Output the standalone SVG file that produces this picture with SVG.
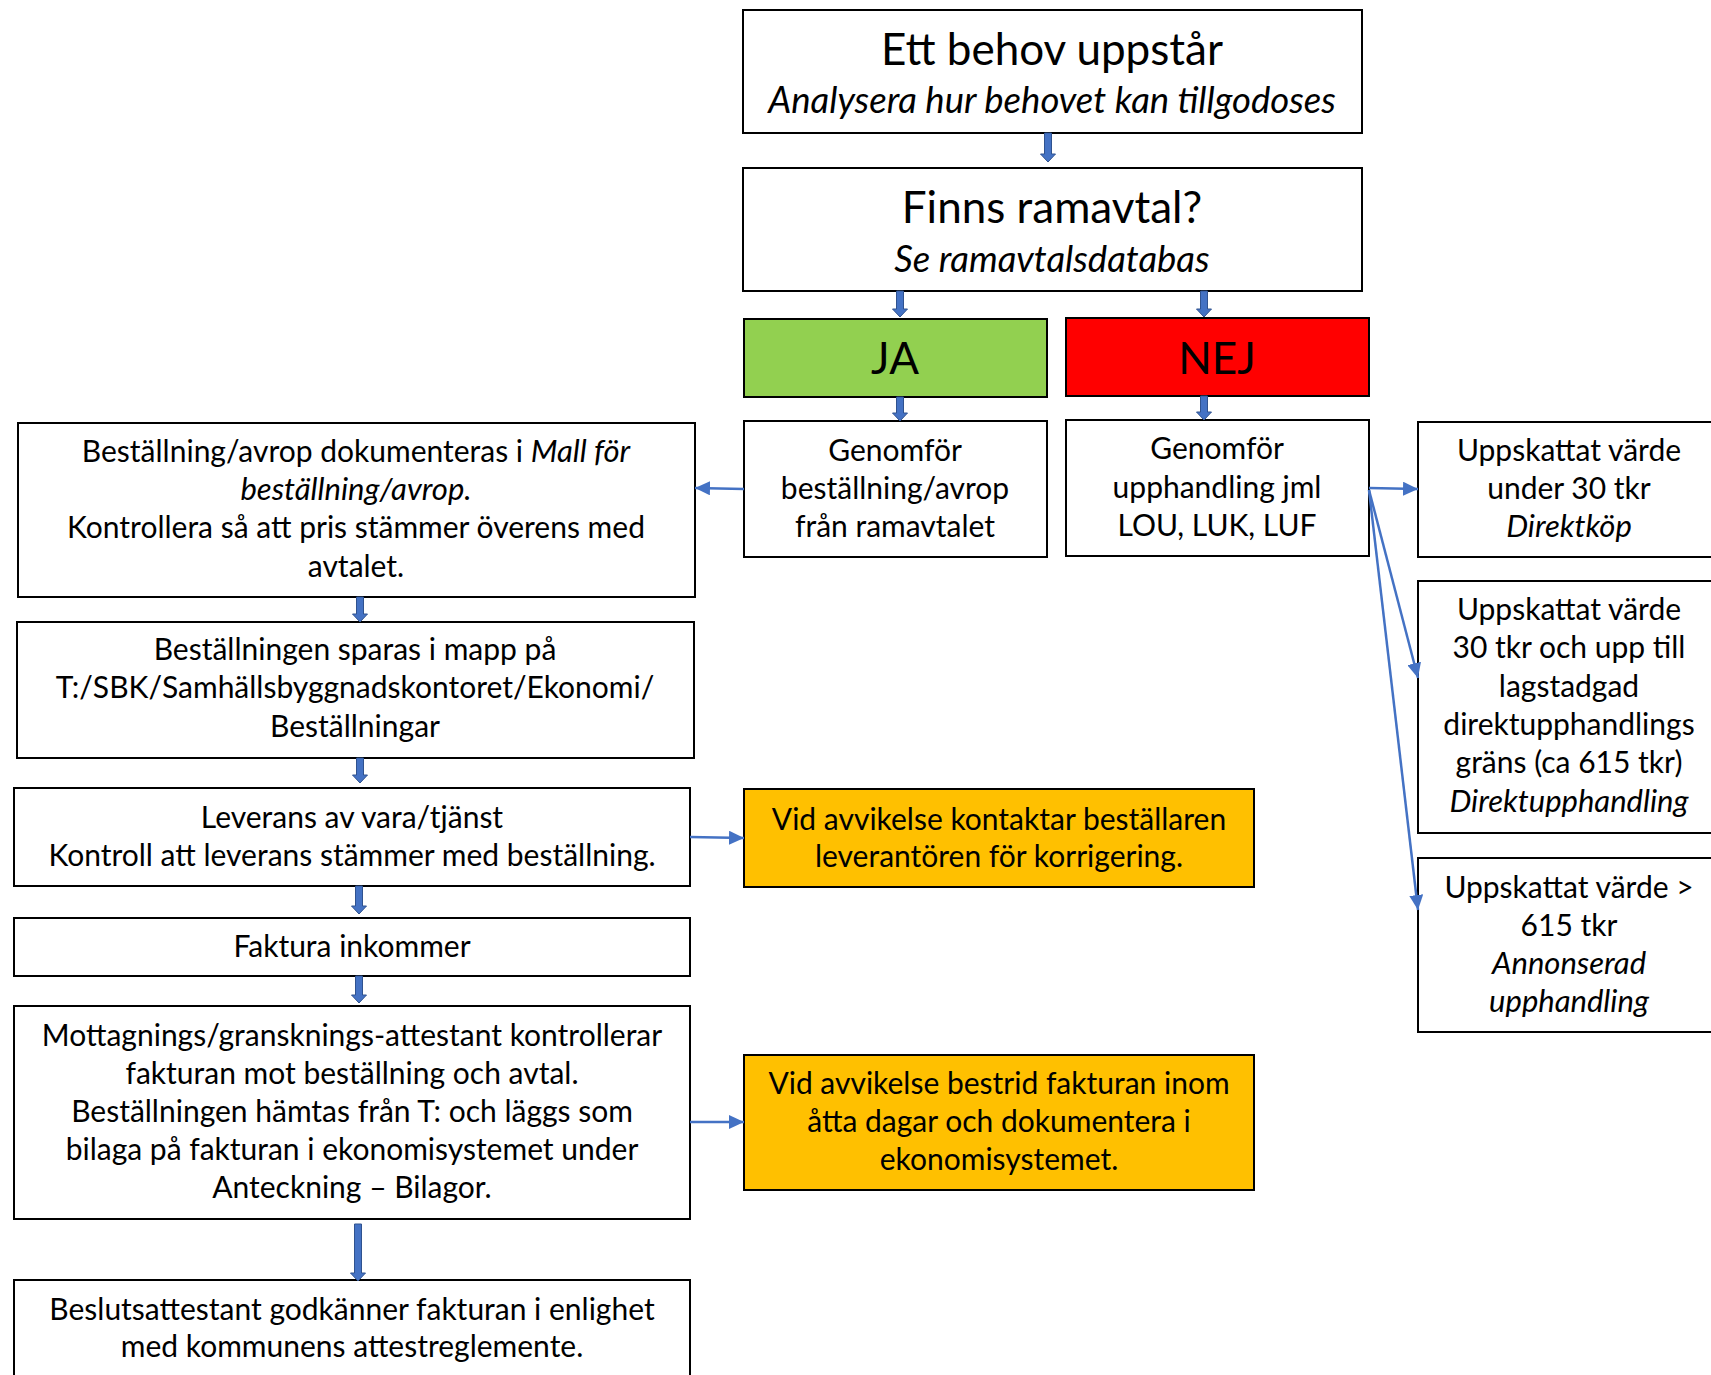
<svg xmlns="http://www.w3.org/2000/svg" width="1711" height="1375" viewBox="0 0 1711 1375">
<style>
  .box { fill: #ffffff; stroke: #000000; stroke-width: 2; }
  .ja { fill: #92D050; stroke: #000000; stroke-width: 2; }
  .nej { fill: #FF0000; stroke: #000000; stroke-width: 2; }
  .warn { fill: #FFC000; stroke: #000000; stroke-width: 2; }
  text { font-family: Lato, "Liberation Sans", sans-serif; fill: #000000; text-anchor: middle; }
  .t { font-size: 44px; }
  .b { font-size: 30px; }
  .i { font-style: italic; font-size: 31px; }
  .s { font-style: italic; font-size: 36.5px; }
  .blk { fill: #4472C4; stroke: #2F528F; stroke-width: 1; }
  .thin { stroke: #4472C4; stroke-width: 2.5; fill: none; marker-end: url(#ah); }
</style>
<defs>
  <marker id="ah" viewBox="0 0 15 14" refX="15" refY="7" markerWidth="15" markerHeight="14" markerUnits="userSpaceOnUse" orient="auto">
    <path d="M0,0 L15,7 L0,14 Z" fill="#4472C4"/>
  </marker>
</defs>
<rect width="1711" height="1375" fill="#ffffff"/>

<g id="n-behov">
  <rect class="box" x="743" y="10" width="619" height="123"/>
  <text class="t" x="1052" y="65">Ett behov uppstår</text>
  <text class="s" x="1052" y="113">Analysera hur behovet kan tillgodoses</text>
</g>
<g id="n-finns">
  <rect class="box" x="743" y="168" width="619" height="123"/>
  <text class="t" x="1052" y="223">Finns ramavtal?</text>
  <text class="s" x="1052" y="272">Se ramavtalsdatabas</text>
</g>
<g id="n-ja">
  <rect class="ja" x="744" y="319" width="303" height="78"/>
  <text class="t" x="895" y="374">JA</text>
</g>
<g id="n-nej">
  <rect class="nej" x="1066" y="318" width="303" height="78"/>
  <text class="t" x="1217" y="374">NEJ</text>
</g>
<g id="n-avrop">
  <rect class="box" x="744" y="421" width="303" height="136"/>
  <text class="b" x="895" y="461">Genomför</text>
  <text class="b" x="895" y="499">beställning/avrop</text>
  <text class="b" x="895" y="537">från ramavtalet</text>
</g>
<g id="n-upphandling">
  <rect class="box" x="1066" y="420" width="303" height="136"/>
  <text class="b" x="1217" y="459">Genomför</text>
  <text class="b" x="1217" y="498">upphandling jml</text>
  <text class="b" x="1217" y="536">LOU, LUK, LUF</text>
</g>
<g id="n-direktkop">
  <rect class="box" x="1418" y="422" width="302" height="135"/>
  <text class="b" x="1569" y="461">Uppskattat värde</text>
  <text class="b" x="1569" y="499">under 30 tkr</text>
  <text class="b i" x="1569" y="537">Direktköp</text>
</g>
<g id="n-direktupphandling">
  <rect class="box" x="1418" y="581" width="302" height="252"/>
  <text class="b" x="1569" y="620">Uppskattat värde</text>
  <text class="b" x="1569" y="658">30 tkr och upp till</text>
  <text class="b" x="1569" y="697">lagstadgad</text>
  <text class="b" x="1569" y="735">direktupphandlings</text>
  <text class="b" x="1569" y="773">gräns (ca 615 tkr)</text>
  <text class="b i" x="1569" y="812">Direktupphandling</text>
</g>
<g id="n-annonserad">
  <rect class="box" x="1418" y="858" width="302" height="174"/>
  <text class="b" x="1569" y="898">Uppskattat värde &gt;</text>
  <text class="b" x="1569" y="936">615 tkr</text>
  <text class="b i" x="1569" y="974">Annonserad</text>
  <text class="b i" x="1569" y="1012">upphandling</text>
</g>
<g id="n-dokumenteras">
  <rect class="box" x="18" y="423" width="677" height="174"/>
  <text class="b" x="356" y="462">Beställning/avrop dokumenteras i <tspan class="i">Mall för</tspan></text>
  <text class="b i" x="356" y="500">beställning/avrop.</text>
  <text class="b" x="356" y="538">Kontrollera så att pris stämmer överens med</text>
  <text class="b" x="356" y="577">avtalet.</text>
</g>
<g id="n-sparas">
  <rect class="box" x="17" y="622" width="677" height="136"/>
  <text class="b" x="355" y="660">Beställningen sparas i mapp på</text>
  <text class="b" x="355" y="698">T:/SBK/Samhällsbyggnadskontoret/Ekonomi/</text>
  <text class="b" x="355" y="737">Beställningar</text>
</g>
<g id="n-leverans">
  <rect class="box" x="14" y="788" width="676" height="98"/>
  <text class="b" x="352" y="828">Leverans av vara/tjänst</text>
  <text class="b" x="352" y="866">Kontroll att leverans stämmer med beställning.</text>
</g>
<g id="n-faktura">
  <rect class="box" x="14" y="918" width="676" height="58"/>
  <text class="b" x="352" y="957">Faktura inkommer</text>
</g>
<g id="n-mottagning">
  <rect class="box" x="14" y="1006" width="676" height="213"/>
  <text class="b" x="352" y="1046">Mottagnings/gransknings-attestant kontrollerar</text>
  <text class="b" x="352" y="1084">fakturan mot beställning och avtal.</text>
  <text class="b" x="352" y="1122">Beställningen hämtas från T: och läggs som</text>
  <text class="b" x="352" y="1160">bilaga på fakturan i ekonomisystemet under</text>
  <text class="b" x="352" y="1198">Anteckning – Bilagor.</text>
</g>
<g id="n-beslut">
  <rect class="box" x="14" y="1280" width="676" height="120"/>
  <text class="b" x="352" y="1320">Beslutsattestant godkänner fakturan i enlighet</text>
  <text class="b" x="352" y="1357">med kommunens attestreglemente.</text>
</g>
<g id="n-avvikelse1">
  <rect class="warn" x="744" y="789" width="510" height="98"/>
  <text class="b" x="999" y="830">Vid avvikelse kontaktar beställaren</text>
  <text class="b" x="999" y="867">leverantören för korrigering.</text>
</g>
<g id="n-avvikelse2">
  <rect class="warn" x="744" y="1055" width="510" height="135"/>
  <text class="b" x="999" y="1094">Vid avvikelse bestrid fakturan inom</text>
  <text class="b" x="999" y="1132">åtta dagar och dokumentera i</text>
  <text class="b" x="999" y="1170">ekonomisystemet.</text>
</g>

<g id="connectors">
  <path class="blk" d="M1044.5,133 H1051.5 V154 H1055.5 L1048,162 L1040.5,154 H1044.5 Z"/>
  <path class="blk" d="M896.5,291 H903.5 V309 H907.5 L900,317 L892.5,309 H896.5 Z"/>
  <path class="blk" d="M1200.5,291 H1207.5 V309 H1211.5 L1204,317 L1196.5,309 H1200.5 Z"/>
  <path class="blk" d="M896.5,397 H903.5 V413 H907.5 L900,421 L892.5,413 H896.5 Z"/>
  <path class="blk" d="M1200.5,396 H1207.5 V412 H1211.5 L1204,420 L1196.5,412 H1200.5 Z"/>
  <path class="blk" d="M356.5,597 H363.5 V614 H367.5 L360,622 L352.5,614 H356.5 Z"/>
  <path class="blk" d="M356.5,758 H363.5 V775 H367.5 L360,783 L352.5,775 H356.5 Z"/>
  <path class="blk" d="M355.5,886 H362.5 V906 H366.5 L359,914 L351.5,906 H355.5 Z"/>
  <path class="blk" d="M355.5,976 H362.5 V995 H366.5 L359,1003 L351.5,995 H355.5 Z"/>
  <path class="blk" d="M354.5,1224 H361.5 V1273 H365.5 L358,1281 L350.5,1273 H354.5 Z"/>
  <line class="thin" x1="744" y1="489" x2="695" y2="488"/>
  <line class="thin" x1="690" y1="837" x2="744" y2="838"/>
  <line class="thin" x1="690" y1="1122" x2="744" y2="1122"/>
  <line class="thin" x1="1369" y1="488" x2="1418" y2="489"/>
  <line class="thin" x1="1369" y1="490" x2="1418" y2="678"/>
  <line class="thin" x1="1369" y1="490" x2="1418" y2="910"/>
</g>
</svg>
